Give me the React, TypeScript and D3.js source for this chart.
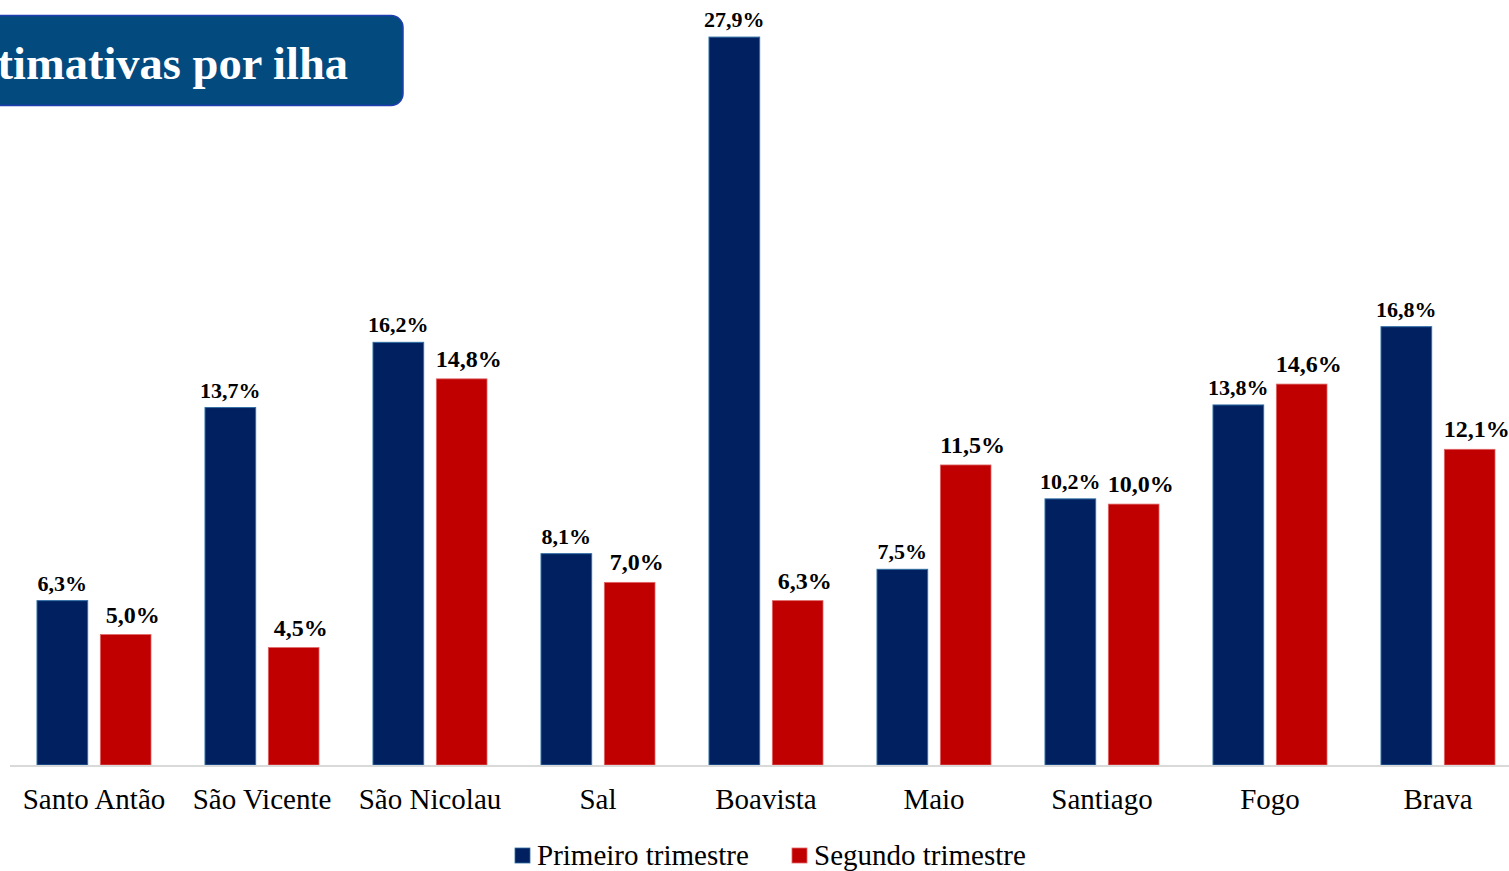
import { useEffect, useRef } from 'react'
import * as d3 from 'd3'

const islands = ['Santo Antão', 'São Vicente', 'São Nicolau', 'Sal', 'Boavista', 'Maio', 'Santiago', 'Fogo', 'Brava']
const primeiro = [6.3, 13.7, 16.2, 8.1, 27.9, 7.5, 10.2, 13.8, 16.8]
const segundo = [5.0, 4.5, 14.8, 7.0, 6.3, 11.5, 10.0, 14.6, 12.1]
const seriesNames = ['Primeiro trimestre', 'Segundo trimestre']

const NAVY = '#002060'
const RED = '#C00000'
const FONT = '"Liberation Serif", "Times New Roman", serif'

export default function App() {
  const svgRef = useRef<SVGSVGElement>(null)

  useEffect(() => {
    if (!svgRef.current) return
    const width = 1509
    const baseY = 765

    const root = d3.select(svgRef.current)
    root.selectAll('*').remove()

    // title box, clipped on the left like the source slide
    root.append('rect')
      .attr('x', -40)
      .attr('y', 15.5)
      .attr('width', 443)
      .attr('height', 90)
      .attr('rx', 12)
      .attr('fill', '#034A7F')
      .attr('stroke', '#1F3FB0')
      .attr('stroke-width', 1.5)

    root.append('text')
      .attr('x', 348)
      .attr('y', 79)
      .attr('text-anchor', 'end')
      .attr('fill', '#fff')
      .attr('font-family', FONT)
      .attr('font-weight', 'bold')
      .attr('font-size', '46.5px')
      .text('Estimativas por ilha')

    const x = d3.scaleBand<string>()
      .domain(islands)
      .range([10, 10 + 168 * islands.length])

    const sub = d3.scaleBand<string>()
      .domain(['p', 's'])
      .range([27, 141])
      .paddingInner(0.2)

    const y = d3.scaleLinear()
      .domain([0, 30])
      .range([baseY, baseY - 30 * 26.09])

    const rows = islands.map((name, i) => ({ name, p: primeiro[i], s: segundo[i] }))

    const g = root.append('g')

    g.selectAll('rect.p')
      .data(rows)
      .join('rect')
      .attr('class', 'p')
      .attr('x', d => x(d.name)! + sub('p')!)
      .attr('y', d => y(d.p))
      .attr('width', sub.bandwidth())
      .attr('height', d => baseY - y(d.p))
      .attr('fill', NAVY)
      .attr('stroke', '#2E6DA4')
      .attr('stroke-width', 1)

    g.selectAll('rect.s')
      .data(rows)
      .join('rect')
      .attr('class', 's')
      .attr('x', d => x(d.name)! + sub('s')!)
      .attr('y', d => y(d.s))
      .attr('width', sub.bandwidth())
      .attr('height', d => baseY - y(d.s))
      .attr('fill', RED)
      .attr('stroke', '#E06666')
      .attr('stroke-width', 0.8)

    const fmt = (v: number) => v.toFixed(1).replace('.', ',') + '%'

    g.selectAll('text.lp')
      .data(rows)
      .join('text')
      .attr('class', 'lp')
      .attr('x', d => x(d.name)! + sub('p')! + sub.bandwidth() / 2)
      .attr('y', d => y(d.p) - 10)
      .attr('text-anchor', 'middle')
      .attr('font-family', FONT)
      .attr('font-weight', 'bold')
      .attr('font-size', '22px')
      .attr('fill', '#000')
      .text(d => fmt(d.p))

    g.selectAll('text.ls')
      .data(rows)
      .join('text')
      .attr('class', 'ls')
      .attr('x', d => x(d.name)! + sub('s')! + sub.bandwidth() / 2 + 7)
      .attr('y', d => y(d.s) - 12)
      .attr('text-anchor', 'middle')
      .attr('font-family', FONT)
      .attr('font-weight', 'bold')
      .attr('font-size', '24px')
      .attr('fill', '#000')
      .text(d => fmt(d.s))

    // baseline
    root.append('line')
      .attr('x1', 10)
      .attr('x2', width)
      .attr('y1', baseY + 1)
      .attr('y2', baseY + 1)
      .attr('stroke', '#D9D9D9')
      .attr('stroke-width', 2)

    root.append('g')
      .selectAll('text')
      .data(islands)
      .join('text')
      .attr('x', d => x(d)! + x.bandwidth() / 2)
      .attr('y', 809)
      .attr('text-anchor', 'middle')
      .attr('font-family', FONT)
      .attr('font-size', '29px')
      .attr('fill', '#000')
      .text(d => d)

    // legend
    const legend = root.append('g')
    const items = [
      { name: seriesNames[0], color: NAVY, x: 515 },
      { name: seriesNames[1], color: RED, x: 792 },
    ]
    items.forEach(it => {
      legend.append('rect')
        .attr('x', it.x)
        .attr('y', 848)
        .attr('width', 15)
        .attr('height', 15)
        .attr('fill', it.color)
        .attr('stroke', it.color === NAVY ? '#2E6DA4' : '#E06666')
        .attr('stroke-width', 0.8)
      legend.append('text')
        .attr('x', it.x + 22)
        .attr('y', 865)
        .attr('font-family', FONT)
        .attr('font-size', '29px')
        .attr('fill', '#000')
        .text(it.name)
    })
  }, [])

  return (
    <svg
      ref={svgRef}
      width={1509}
      height={871}
      style={{ position: 'fixed', top: 0, left: 0, background: '#fff' }}
    />
  )
}
